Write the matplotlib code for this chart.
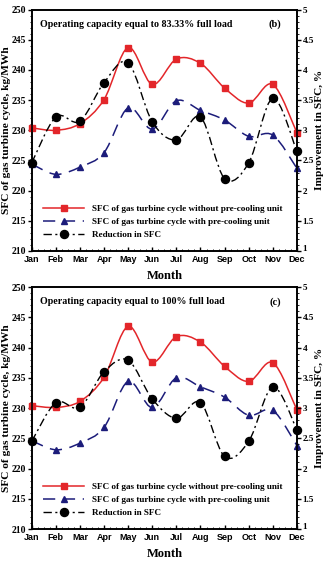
import numpy as np
import matplotlib.pyplot as plt
from matplotlib.path import Path
from matplotlib.patches import PathPatch
from matplotlib.lines import Line2D
from matplotlib.ticker import MultipleLocator
from matplotlib.transforms import ScaledTranslation

# ------------------------------------------------------------
# Data
# ------------------------------------------------------------
months = ["Jan", "Feb", "Mar", "Apr", "May", "Jun",
          "Jul", "Aug", "Sep", "Oct", "Nov", "Dec"]

# (b) 83.33 % full load
sfc_without_b = [230.4, 230.0, 231.1, 235.1, 243.7, 237.6, 241.8, 241.1, 237.0, 234.5, 237.6, 229.6]
sfc_with_b    = [224.4, 222.7, 223.9, 226.3, 233.7, 230.2, 234.9, 233.3, 231.7, 229.0, 229.2, 223.7]
reduction_b   = [2.46, 3.22, 3.15, 3.79, 4.12, 3.14, 2.84, 3.22, 2.20, 2.46, 3.53, 2.65]

# (c) 100 % full load
sfc_without_c = [230.4, 230.1, 231.1, 235.1, 243.5, 237.6, 241.8, 240.9, 236.9, 234.4, 237.5, 229.7]
sfc_with_c    = [224.6, 223.1, 224.2, 226.8, 234.4, 230.1, 235.0, 233.5, 231.8, 228.8, 229.6, 223.8]
reduction_c   = [2.45, 3.09, 3.01, 3.60, 3.79, 3.15, 2.83, 3.09, 2.20, 2.45, 3.35, 2.64]

SERIF = "Liberation Serif"
SANS = "Liberation Sans"
RED = "#e3262a"
NAVY = "#1c1c7a"
BLUE_DASH = (0, (8, 5))
BLACK_DASH = (0, (6, 2.5, 1.5, 2.5))


def smooth_path(x, y):
    # Catmull-Rom through the points, drawn as cubic Bezier segments
    x = np.asarray(x, float)
    y = np.asarray(y, float)
    pts = np.column_stack([x, y])
    verts = [pts[0]]
    codes = [Path.MOVETO]
    n = len(pts)
    for i in range(n - 1):
        p0 = pts[max(i - 1, 0)]
        p1 = pts[i]
        p2 = pts[i + 1]
        p3 = pts[min(i + 2, n - 1)]
        c1 = p1 + (p2 - p0) / 6.0
        c2 = p2 - (p3 - p1) / 6.0
        verts += [c1, c2, p2]
        codes += [Path.CURVE4] * 3
    return Path(verts, codes)


def draw_series(ax, y, color, ls, lw, marker, ms):
    x = np.arange(len(y))
    patch = PathPatch(smooth_path(x, y), fill=False, edgecolor=color,
                      linestyle=ls, linewidth=lw, zorder=3)
    ax.add_patch(patch)
    ax.plot(x, y, linestyle="none", marker=marker, color=color,
            markersize=ms, zorder=4, clip_on=False)


def panel(fig, ax, without, with_, reduction, title, tag):
    ax2 = ax.twinx()
    draw_series(ax, without, RED, "-", 1.1, "s", 3.8)
    draw_series(ax, with_, NAVY, BLUE_DASH, 1.1, "^", 4.0)
    draw_series(ax2, reduction, "black", BLACK_DASH, 1.0, "o", 5.8)

    ax.set_xlim(0, 11)
    ax.set_ylim(210, 250)
    ax.set_yticks(np.arange(210, 251, 5))
    ax.yaxis.set_minor_locator(MultipleLocator(1))
    ax2.set_ylim(1, 5)
    ax2.set_yticks([1, 1.5, 2, 2.5, 3, 3.5, 4, 4.5, 5])
    ax2.set_yticklabels(["1", "1.5", "2", "2.5", "3", "3.5", "4", "4.5", "5"])
    ax2.yaxis.set_minor_locator(MultipleLocator(0.1))
    ax.set_xticks(np.arange(12))
    ax.xaxis.set_minor_locator(MultipleLocator(0.25))
    ax.set_xticklabels(months, fontfamily=SANS, fontweight="bold", fontsize=6.5)

    for lab in ax.get_yticklabels():
        lab.set_fontfamily(SERIF)
        lab.set_fontweight("bold")
        lab.set_fontsize(7.0)
    for lab in ax2.get_yticklabels():
        lab.set_fontfamily(SERIF)
        lab.set_fontweight("bold")
        lab.set_fontsize(6.6)

    ax.tick_params(axis="y", which="major", length=3, width=1, pad=1.0)
    ax.tick_params(axis="y", which="minor", length=1.5, width=0.6)
    ax.tick_params(axis="x", which="major", direction="in", length=3, width=1, pad=3)
    ax.tick_params(axis="x", which="minor", direction="in", length=1.5, width=0.6)
    ax2.tick_params(axis="y", which="major", length=3, width=1, pad=1.0)
    ax2.tick_params(axis="y", which="minor", length=1.5, width=0.6)
    for a in (ax, ax2):
        for s in a.spines.values():
            s.set_linewidth(1.2)

    # lift the lowest right-hand label a little so it clears "Dec"
    low = ax2.yaxis.get_majorticklabels()[0]
    low.set_transform(low.get_transform() + ScaledTranslation(0, 2 / 72, fig.dpi_scale_trans))

    ax.set_ylabel("SFC of gas turbine cycle, kg/MWh", fontfamily=SERIF,
                  fontweight="bold", fontsize=8.2, labelpad=0.5)
    ax2.set_ylabel("Improvement in SFC, %", fontfamily=SERIF,
                   fontweight="bold", fontsize=8.2, labelpad=1)
    ax.set_xlabel("Month", fontfamily=SERIF, fontweight="bold",
                  fontsize=9, labelpad=4)

    ax.text(0.03, 0.958, title, transform=ax.transAxes, fontfamily=SERIF,
            fontweight="bold", fontsize=7.2, va="top", ha="left")
    ax.text(0.94, 0.958, tag, transform=ax.transAxes, fontfamily=SERIF,
            fontweight="bold", fontsize=7.5, va="top", ha="right")

    handles = [
        Line2D([], [], color=RED, ls="-", lw=1.1, marker="s", markersize=3.8),
        Line2D([], [], color=NAVY, ls=BLUE_DASH, lw=1.1, marker="^", markersize=4),
        Line2D([], [], color="black", ls=BLACK_DASH, lw=1.0,
               marker="o", markersize=5.8),
    ]
    labels = ["SFC of gas turbine cycle without pre-cooling unit",
              "SFC of gas turbine cycle with pre-cooling unit",
              "Reduction in SFC"]
    ax.legend(handles, labels, loc="lower left", bbox_to_anchor=(0.03, 0.035),
              frameon=False, handlelength=4.4, handletextpad=0.9,
              labelspacing=0.5, borderaxespad=0,
              prop={"family": SERIF, "weight": "bold", "size": 6.6})


fig = plt.figure(figsize=(3.27, 5.64), dpi=100)
ax_b = fig.add_axes([0.097, 0.555, 0.811, 0.428])
ax_c = fig.add_axes([0.097, 0.062, 0.811, 0.429])

panel(fig, ax_b, sfc_without_b, sfc_with_b, reduction_b,
      "Operating capacity equal to 83.33% full load", "(b)")
panel(fig, ax_c, sfc_without_c, sfc_with_c, reduction_c,
      "Operating capacity equal to 100% full load", "(c)")

fig.savefig("out.png", dpi=100)
